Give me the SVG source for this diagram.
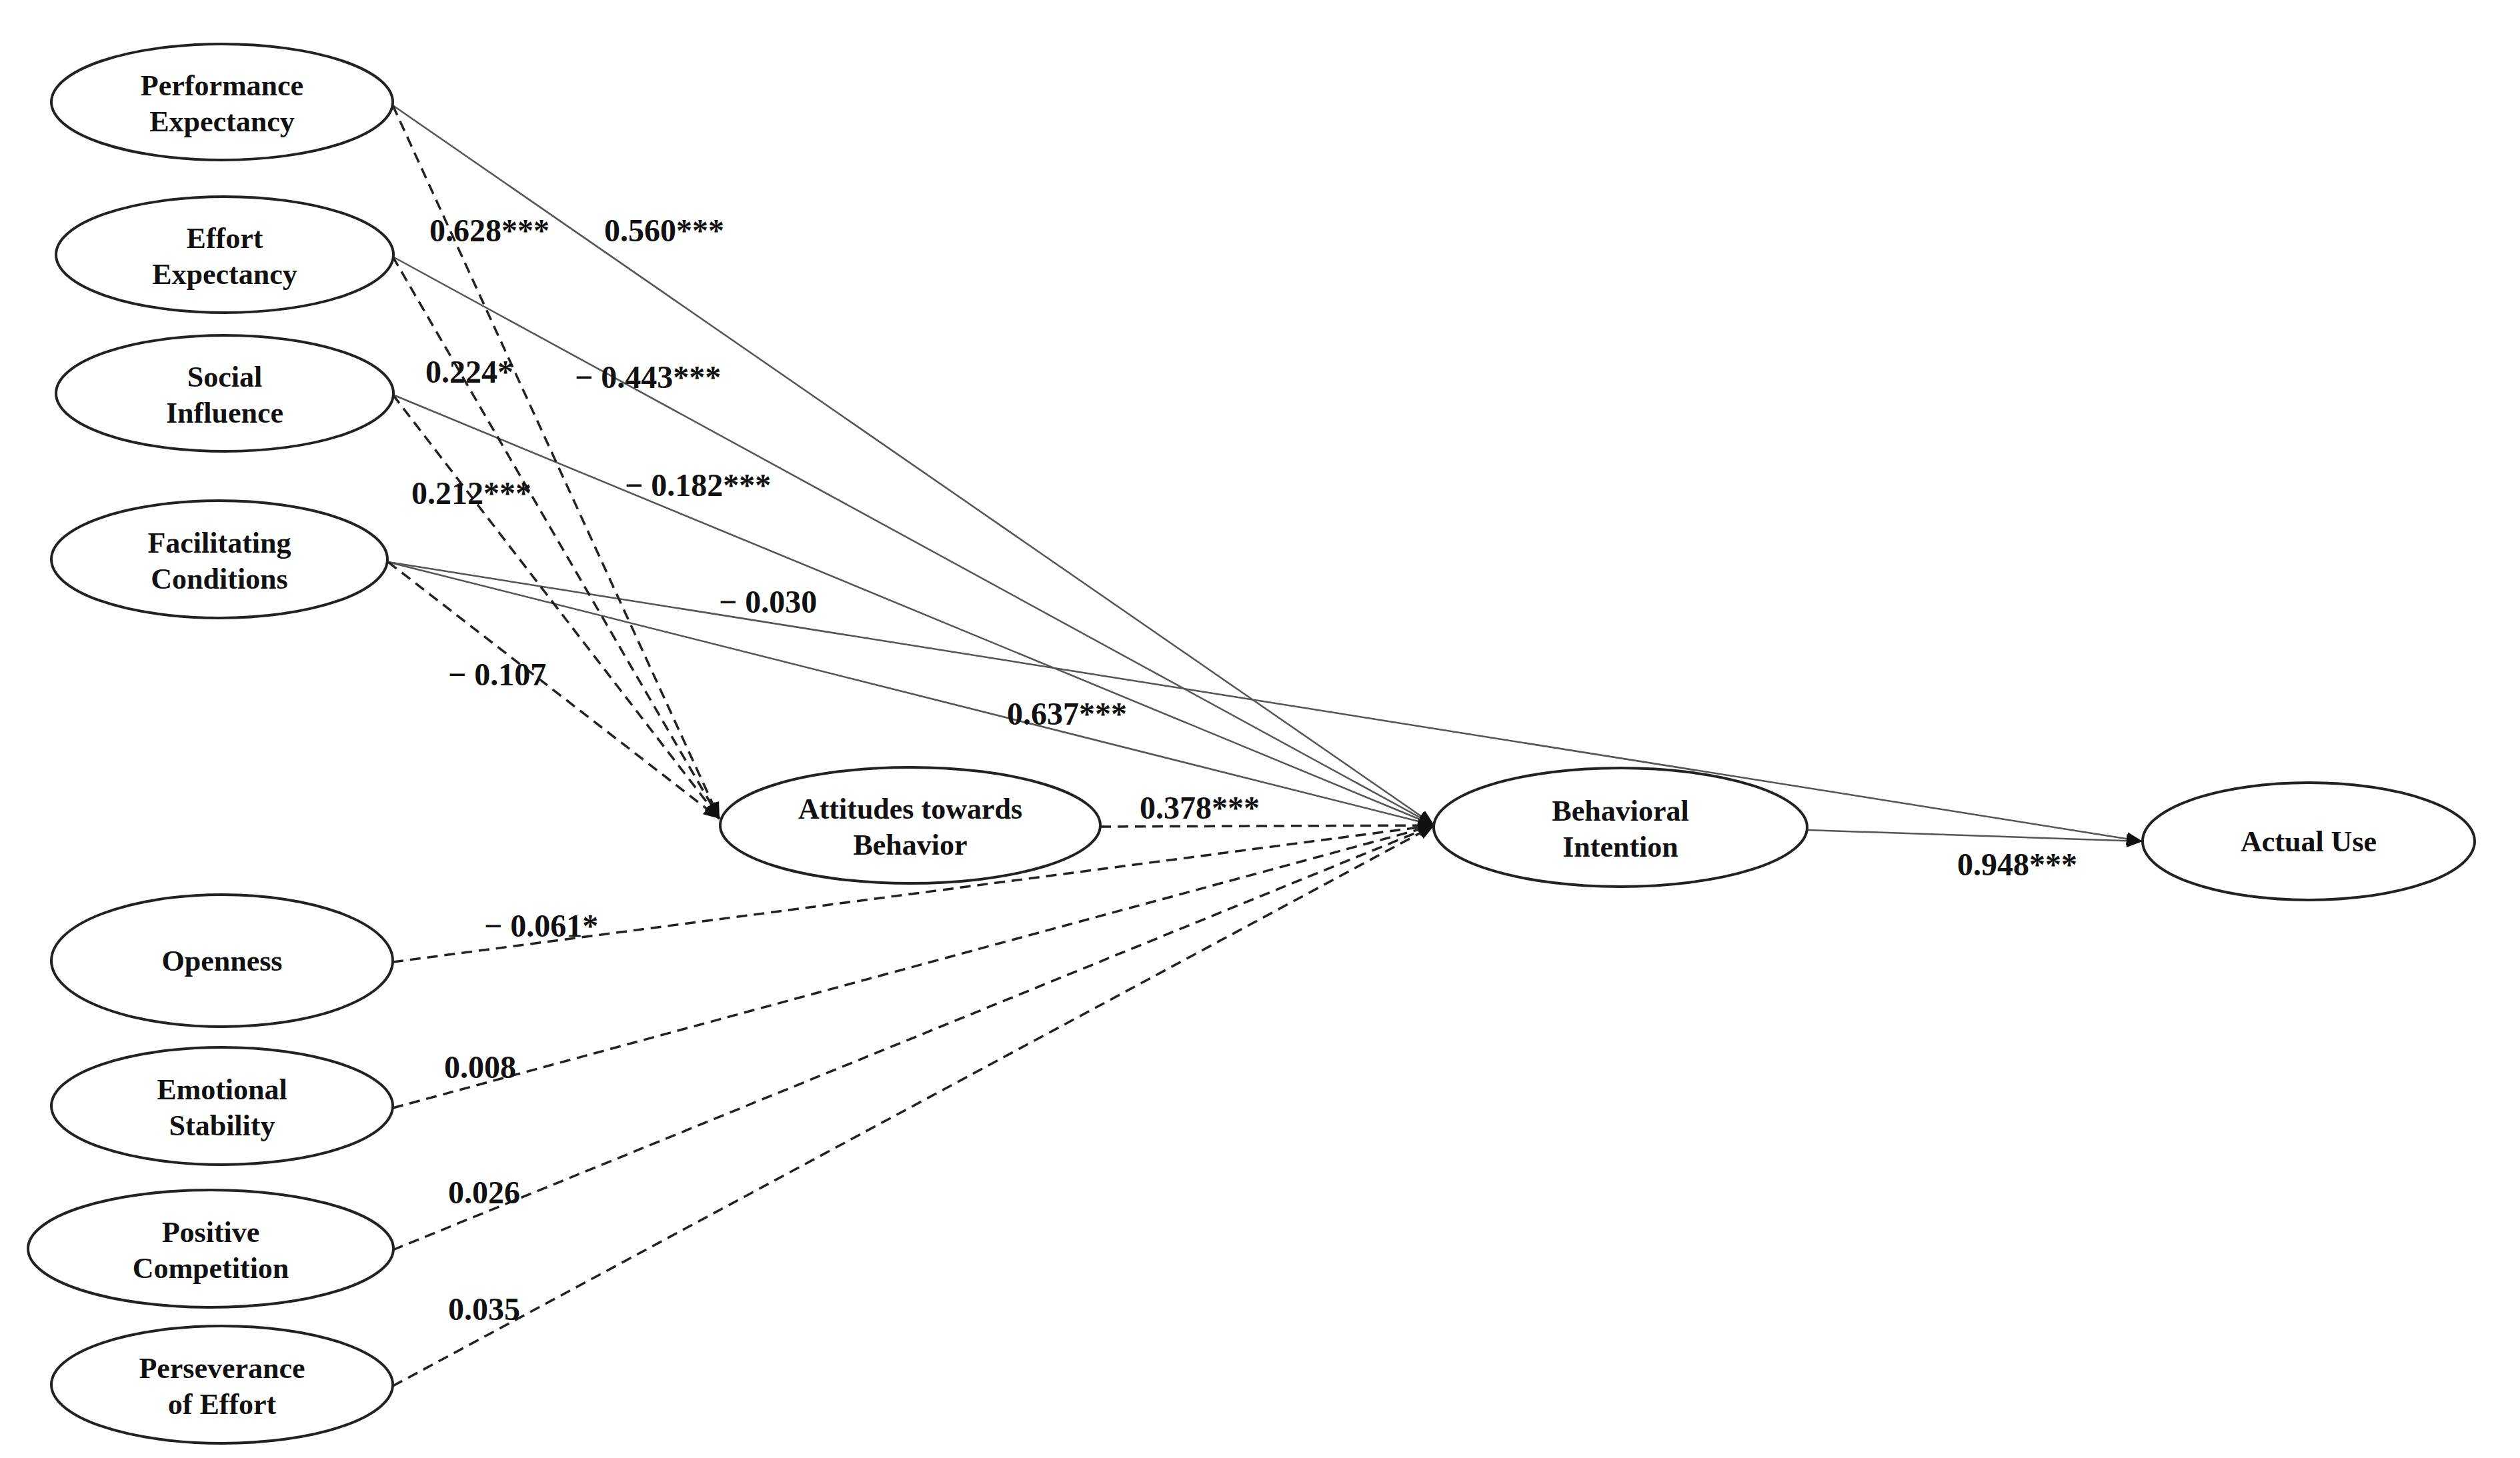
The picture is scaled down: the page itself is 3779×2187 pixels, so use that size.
<svg xmlns="http://www.w3.org/2000/svg" width="3779" height="2187" viewBox="0 0 3779 2187">
<style>
.n{fill:#fff;stroke:#222;stroke-width:4}
.t{font-family:"Liberation Serif",serif;font-weight:bold;font-size:44px;fill:#111;text-anchor:middle}
.l{font-family:"Liberation Serif",serif;font-weight:bold;font-size:48px;fill:#111}
.s{stroke:#555;stroke-width:2.5;fill:none}
.d{stroke:#222;stroke-width:3.5;fill:none;stroke-dasharray:16 10}
</style>
<defs>
<marker id="a" viewBox="0 0 10 10" refX="10" refY="5" markerWidth="8" markerHeight="8" markerUnits="userSpaceOnUse" orient="auto" style="overflow:visible">
<path d="M0,0 L10,5 L0,10 z" fill="#111" transform="scale(3)translate(-6.7,-3.3)"/>
</marker>
<marker id="b" viewBox="0 0 24 20" refX="24" refY="10" markerWidth="24" markerHeight="20" markerUnits="userSpaceOnUse" orient="auto">
<path d="M0,0 L24,10 L0,20 z" fill="#111"/>
</marker>
</defs>
<rect width="3779" height="2187" fill="#fff"/>
<g id="connectors">
<line class="s" x1="589" y1="158" x2="2151" y2="1238" marker-end="url(#b)"/>
<line class="s" x1="589" y1="385" x2="2151" y2="1238" marker-end="url(#b)"/>
<line class="s" x1="589" y1="592" x2="2151" y2="1238" marker-end="url(#b)"/>
<line class="s" x1="582" y1="843" x2="2151" y2="1238" marker-end="url(#b)"/>
<line class="s" x1="582" y1="843" x2="3213" y2="1262" marker-end="url(#b)"/>
<line class="s" x1="2710" y1="1245" x2="3213" y2="1262" marker-end="url(#b)"/>
<line class="d" x1="589" y1="158" x2="1079" y2="1228" marker-end="url(#b)"/>
<line class="d" x1="589" y1="385" x2="1079" y2="1228" marker-end="url(#b)"/>
<line class="d" x1="589" y1="592" x2="1079" y2="1228" marker-end="url(#b)"/>
<line class="d" x1="582" y1="843" x2="1079" y2="1228" marker-end="url(#b)"/>
<line class="d" x1="1650" y1="1240" x2="2151" y2="1238" marker-end="url(#b)"/>
<line class="d" x1="589" y1="1443" x2="2151" y2="1238" marker-end="url(#b)"/>
<line class="d" x1="589" y1="1662" x2="2151" y2="1238" marker-end="url(#b)"/>
<line class="d" x1="589" y1="1875" x2="2151" y2="1238" marker-end="url(#b)"/>
<line class="d" x1="589" y1="2079" x2="2151" y2="1238" marker-end="url(#b)"/>
<text class="l" x="644" y="362">0.628***</text>
<text class="l" x="906" y="362">0.560***</text>
<text class="l" x="638" y="574">0.224*</text>
<text class="l" x="862" y="582">− 0.443***</text>
<text class="l" x="617" y="756">0.212***</text>
<text class="l" x="937" y="744">− 0.182***</text>
<text class="l" x="1078" y="919">− 0.030</text>
<text class="l" x="672" y="1028">− 0.107</text>
<text class="l" x="1510" y="1087">0.637***</text>
<text class="l" x="1709" y="1228">0.378***</text>
<text class="l" x="2935" y="1313">0.948***</text>
<text class="l" x="726" y="1405">− 0.061*</text>
<text class="l" x="666" y="1617">0.008</text>
<text class="l" x="672" y="1805">0.026</text>
<text class="l" x="672" y="1980">0.035</text>
</g>
<g id="pe"><ellipse class="n" cx="333" cy="153" rx="256" ry="87"/><text class="t" x="333" y="143">Performance</text><text class="t" x="333" y="197">Expectancy</text></g>
<g id="ee"><ellipse class="n" cx="337" cy="382" rx="253" ry="87"/><text class="t" x="337" y="372">Effort</text><text class="t" x="337" y="426">Expectancy</text></g>
<g id="si"><ellipse class="n" cx="337" cy="590" rx="253" ry="87"/><text class="t" x="337" y="580">Social</text><text class="t" x="337" y="634">Influence</text></g>
<g id="fc"><ellipse class="n" cx="329" cy="839" rx="252" ry="88"/><text class="t" x="329" y="829">Facilitating</text><text class="t" x="329" y="883">Conditions</text></g>
<g id="op"><ellipse class="n" cx="333" cy="1441" rx="256" ry="99"/><text class="t" x="333" y="1456">Openness</text></g>
<g id="es"><ellipse class="n" cx="333" cy="1659" rx="256" ry="88"/><text class="t" x="333" y="1649">Emotional</text><text class="t" x="333" y="1703">Stability</text></g>
<g id="pc"><ellipse class="n" cx="316" cy="1873" rx="274" ry="88"/><text class="t" x="316" y="1863">Positive</text><text class="t" x="316" y="1917">Competition</text></g>
<g id="poe"><ellipse class="n" cx="333" cy="2077" rx="256" ry="88"/><text class="t" x="333" y="2067">Perseverance</text><text class="t" x="333" y="2121">of Effort</text></g>
<g id="atb"><ellipse class="n" cx="1365" cy="1238" rx="285" ry="87"/><text class="t" x="1365" y="1228">Attitudes towards</text><text class="t" x="1365" y="1282">Behavior</text></g>
<g id="bi"><ellipse class="n" cx="2430" cy="1241" rx="280" ry="89"/><text class="t" x="2430" y="1231">Behavioral</text><text class="t" x="2430" y="1285">Intention</text></g>
<g id="au"><ellipse class="n" cx="3462" cy="1262" rx="249" ry="88"/><text class="t" x="3462" y="1277">Actual Use</text></g>
</svg>
